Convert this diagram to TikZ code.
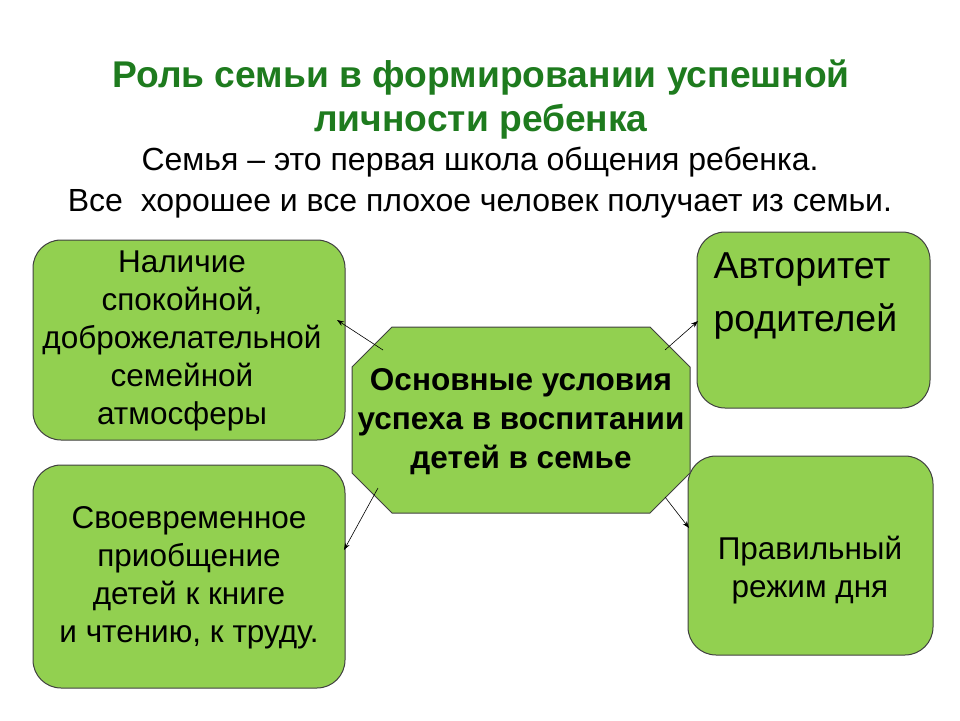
\documentclass[tikz,border=0pt]{standalone}
\usepackage{fontspec}
\setmainfont{Liberation Sans}
\usetikzlibrary{arrows.meta}
\definecolor{boxg}{HTML}{92D050}
\definecolor{titleg}{HTML}{1E7B1E}
\tikzset{
  gbox/.style={draw=black!75, line width=1pt, fill=boxg, rounded corners=28pt},
  txt/.style={align=center, font=\fontsize{31.5}{38}\selectfont},
  conn/.style={-{Stealth[length=7pt,width=5pt]}, line width=0.6pt}
}
\begin{document}
\begin{tikzpicture}[x=1pt,y=-1pt]
\useasboundingbox (0,0) rectangle (960,720);
\node[font=\fontsize{37.2}{44}\selectfont\bfseries, text=titleg, align=center] (title) at (481,100) {Роль семьи в формировании успешной\\личности ребенка};
\node[font=\fontsize{32}{41}\selectfont, align=center] (sub) at (480,183) {Семья – это первая школа общения ребенка.\\Все \ хорошее и все плохое человек получает из семьи.};
\draw[gbox] (33,240) rectangle (345,440);
\node[txt] (lt) at (182,341) {Наличие\\спокойной,\\доброжелательной\\семейной\\атмосферы};
\draw[gbox] (33,465) rectangle (345,688);
\node[txt] (lb) at (189,578) {Своевременное\\приобщение\\детей к книге\\и чтению, к труду.};
\draw[gbox] (697,232) rectangle (930,408);
\node[align=left, anchor=west, font=\fontsize{37.5}{53}\selectfont] (rt) at (710,296) {Авторитет\\родителей};
\draw[gbox] (688,456) rectangle (933,655);
\node[txt] (rb) at (810,570) {Правильный\\режим дня};
\draw[line width=1pt, draw=black!75, fill=boxg] (392,327) -- (650,327) -- (690,367) -- (690,473) -- (650,513) -- (392,513) -- (352,473) -- (352,367) -- cycle;
\node[txt, font=\fontsize{31.5}{39}\selectfont\bfseries] (oct) at (521,422) {Основные условия\\успеха в воспитании\\детей в семье};
\coordinate (o1) at (383,350); \coordinate (e1) at (337,320);
\coordinate (o2) at (378,488); \coordinate (e2) at (344,550);
\coordinate (o3) at (665,350); \coordinate (e3) at (698,321);
\coordinate (o4) at (665,497); \coordinate (e4) at (689,528);
\draw[conn] (o1) -- (e1);
\draw[conn] (o2) -- (e2);
\draw[conn] (o3) -- (e3);
\draw[conn] (o4) -- (e4);
\end{tikzpicture}
\end{document}
